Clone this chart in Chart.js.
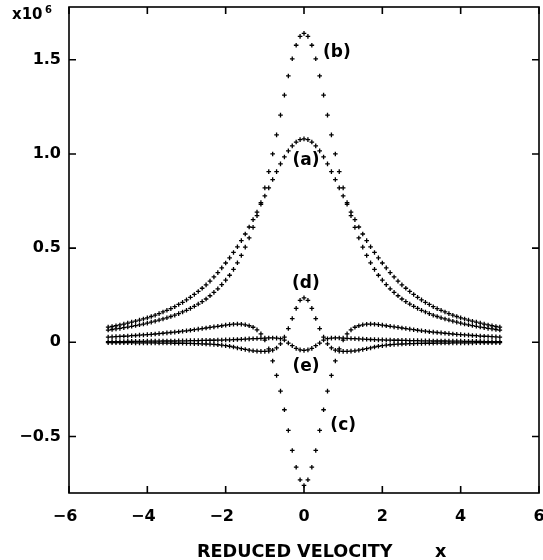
<!DOCTYPE html>
<html>
<head>
<meta charset="utf-8">
<script src="https://cdn.jsdelivr.net/npm/chart.js@4/dist/chart.umd.min.js"></script>
<style>
html,body{margin:0;padding:0;background:#fff;}
canvas{display:block;}
</style>
</head>
<body>
<canvas id="c" width="543" height="560"></canvas>
<script>
const xs = [-5.0,-4.9,-4.8,-4.7,-4.6,-4.5,-4.4,-4.3,-4.2,-4.1,-4.0,-3.9,-3.8,-3.7,-3.6,-3.5,-3.4,-3.3,-3.2,-3.1,-3.0,-2.9,-2.8,-2.7,-2.6,-2.5,-2.4,-2.3,-2.2,-2.1,-2.0,-1.9,-1.8,-1.7,-1.6,-1.5,-1.4,-1.3,-1.2,-1.1,-1.0,-0.9,-0.8,-0.7,-0.6,-0.5,-0.4,-0.3,-0.2,-0.1,0.0,0.1,0.2,0.3,0.4,0.5,0.6,0.7,0.8,0.9,1.0,1.1,1.2,1.3,1.4,1.5,1.6,1.7,1.8,1.9,2.0,2.1,2.2,2.3,2.4,2.5,2.6,2.7,2.8,2.9,3.0,3.1,3.2,3.3,3.4,3.5,3.6,3.7,3.8,3.9,4.0,4.1,4.2,4.3,4.4,4.5,4.6,4.7,4.8,4.9,5.0];

const seriesA = [0.081,0.084,0.088,0.092,0.097,0.102,0.107,0.112,0.118,0.124,
0.130,0.137,0.144,0.152,0.161,0.170,0.179,0.189,0.201,0.212,
0.225,0.239,0.254,0.270,0.287,0.305,0.325,0.347,0.370,0.395,
0.421,0.448,0.477,0.507,0.540,0.575,0.612,0.651,0.691,0.733,
0.777,0.820,0.864,0.906,0.947,0.984,1.016,1.043,1.063,1.076,
1.080,
1.076,1.063,1.043,1.016,0.984,0.947,0.906,0.864,0.820,0.777,
0.733,0.691,0.651,0.612,0.575,0.540,0.507,0.477,0.448,0.421,
0.395,0.370,0.347,0.325,0.305,0.287,0.270,0.254,0.239,0.225,
0.212,0.201,0.189,0.179,0.170,0.161,0.152,0.144,0.137,0.130,
0.124,0.118,0.112,0.107,0.102,0.097,0.092,0.088,0.084,0.081];

const seriesB = [0.065,0.068,0.071,0.074,0.078,0.081,0.085,0.089,0.093,0.097,
0.102,0.107,0.112,0.118,0.124,0.130,0.137,0.144,0.152,0.161,
0.170,0.180,0.191,0.203,0.216,0.230,0.247,0.265,0.284,0.306,
0.330,0.356,0.387,0.422,0.461,0.505,0.554,0.610,0.672,0.742,
0.820,0.906,1.000,1.101,1.206,1.312,1.414,1.505,1.577,1.624,
1.640,
1.624,1.577,1.505,1.414,1.312,1.206,1.101,1.000,0.906,0.820,
0.742,0.672,0.610,0.554,0.505,0.461,0.422,0.387,0.356,0.330,
0.306,0.284,0.265,0.247,0.230,0.216,0.203,0.191,0.180,0.170,
0.161,0.152,0.144,0.137,0.130,0.124,0.118,0.112,0.107,0.102,
0.097,0.093,0.089,0.085,0.081,0.078,0.074,0.071,0.068,0.065];

const seriesC = [0.028,0.029,0.030,0.031,0.032,0.033,0.035,0.036,0.038,0.039,
0.041,0.042,0.044,0.046,0.048,0.050,0.052,0.054,0.056,0.059,
0.061,0.064,0.067,0.070,0.073,0.076,0.079,0.082,0.085,0.088,
0.091,0.094,0.096,0.097,0.096,0.093,0.088,0.080,0.066,0.045,
0.012,-0.035,-0.099,-0.176,-0.259,-0.358,-0.468,-0.574,-0.663,-0.730,
-0.760,
-0.730,-0.663,-0.574,-0.468,-0.358,-0.259,-0.176,-0.099,-0.035,0.012,
0.045,0.066,0.080,0.088,0.093,0.096,0.097,0.096,0.094,0.091,
0.088,0.085,0.082,0.079,0.076,0.073,0.070,0.067,0.064,0.061,
0.059,0.056,0.054,0.052,0.050,0.048,0.046,0.044,0.042,0.041,
0.039,0.038,0.036,0.035,0.033,0.032,0.031,0.030,0.029,0.028];

const seriesD = [-0.002,-0.002,-0.002,-0.002,-0.002,-0.002,-0.002,-0.003,-0.003,-0.003,
-0.003,-0.003,-0.003,-0.004,-0.004,-0.004,-0.004,-0.005,-0.005,-0.005,
-0.006,-0.006,-0.007,-0.007,-0.008,-0.009,-0.010,-0.011,-0.013,-0.015,
-0.018,-0.021,-0.025,-0.030,-0.034,-0.038,-0.042,-0.045,-0.047,-0.048,
-0.048,-0.047,-0.042,-0.030,-0.008,0.028,0.073,0.126,0.180,0.223,
0.236,
0.223,0.180,0.126,0.073,0.028,-0.008,-0.030,-0.042,-0.047,-0.048,
-0.048,-0.047,-0.045,-0.042,-0.038,-0.034,-0.030,-0.025,-0.021,-0.018,
-0.015,-0.013,-0.011,-0.010,-0.009,-0.008,-0.007,-0.007,-0.006,-0.006,
-0.005,-0.005,-0.005,-0.004,-0.004,-0.004,-0.004,-0.003,-0.003,-0.003,
-0.003,-0.003,-0.003,-0.002,-0.002,-0.002,-0.002,-0.002,-0.002,-0.002];

const seriesE = [0.004,0.004,0.004,0.004,0.004,0.005,0.005,0.005,0.005,0.005,
0.006,0.006,0.006,0.006,0.007,0.007,0.007,0.007,0.008,0.008,
0.008,0.009,0.009,0.009,0.010,0.010,0.011,0.011,0.012,0.012,
0.013,0.013,0.014,0.015,0.016,0.017,0.018,0.019,0.020,0.021,
0.022,0.023,0.023,0.022,0.019,0.012,-0.004,-0.018,-0.032,-0.040,
-0.043,
-0.040,-0.032,-0.018,-0.004,0.012,0.019,0.022,0.023,0.023,0.022,
0.021,0.020,0.019,0.018,0.017,0.016,0.015,0.014,0.013,0.013,
0.012,0.012,0.011,0.011,0.010,0.010,0.009,0.009,0.009,0.008,
0.008,0.008,0.007,0.007,0.007,0.007,0.006,0.006,0.006,0.006,
0.005,0.005,0.005,0.005,0.005,0.004,0.004,0.004,0.004,0.004];

const xTickValues = [-6,-4,-2,0,2,4,6];
const xTickLabels = ['\u22126\u2002','\u22124\u2002','\u22122\u2002','0','2','4','6'];
const yTickValues = [-0.5,0,0.5,1.0,1.5];
const yTickLabels = ['\u22120.5','0','0.5','1.0','1.5'];

const curveLabels = ['(a)','(b)','(c)','(d)','(e)'];
const curveLabelX = [0.05,0.84,1.0,0.05,0.05];
const curveLabelY = [0.966,1.54,-0.44,0.313,-0.127];

const FONT = 'DejaVu Sans';

function mk(label, ys){
  return {
    label: label,
    data: xs.map((x,i)=>({x:x, y:ys[i]})),
    showLine: false,
    pointStyle: 'cross',
    pointRadius: 2.3,
    pointBorderWidth: 1.3,
    borderColor: '#000',
    backgroundColor: '#000',
    pointHoverRadius: 2.3
  };
}

const framePlugin = {
  id: 'frame',
  afterDraw(chart){
    const ctx = chart.ctx;
    const a = chart.chartArea;
    const sx = chart.scales.x, sy = chart.scales.y;
    ctx.save();
    ctx.strokeStyle = '#000';
    ctx.lineWidth = 1.6;
    ctx.strokeRect(a.left, a.top, a.right - a.left, a.bottom - a.top);
    const tl = 7;
    ctx.beginPath();
    xTickValues.forEach(v=>{
      const p = sx.getPixelForValue(v);
      ctx.moveTo(p, a.bottom); ctx.lineTo(p, a.bottom - tl);
      ctx.moveTo(p, a.top); ctx.lineTo(p, a.top + tl);
    });
    yTickValues.forEach(v=>{
      const p = sy.getPixelForValue(v);
      ctx.moveTo(a.left, p); ctx.lineTo(a.left + tl, p);
      ctx.moveTo(a.right, p); ctx.lineTo(a.right - tl, p);
    });
    ctx.stroke();

    ctx.fillStyle = '#000';
    ctx.font = 'bold 17px "' + FONT + '"';
    ctx.textAlign = 'center';
    ctx.textBaseline = 'middle';
    curveLabels.forEach((t,i)=>{
      ctx.fillText(t, sx.getPixelForValue(curveLabelX[i]), sy.getPixelForValue(curveLabelY[i]));
    });

    ctx.textAlign = 'left';
    ctx.textBaseline = 'alphabetic';
    ctx.font = 'bold 15px "' + FONT + '"';
    ctx.fillText('x10', 12, 19);
    ctx.font = 'bold 10px "' + FONT + '"';
    ctx.fillText('6', 45, 13);

    ctx.font = 'bold 17.6px "' + FONT + '"';
    ctx.fillText('REDUCED VELOCITY', 197, 557);
    ctx.fillText('x', 435, 557);
    ctx.restore();
  }
};

new Chart(document.getElementById('c'), {
  type: 'scatter',
  data: { datasets: [mk('a',seriesA), mk('b',seriesB), mk('c',seriesC), mk('d',seriesD), mk('e',seriesE)] },
  options: {
    responsive: false,
    animation: false,
    devicePixelRatio: 1,
    layout: { padding: { left: 0, right: 4, top: 7, bottom: 0 } },
    plugins: { legend: { display: false }, tooltip: { enabled: false }, title: {display:false} },
    scales: {
      x: {
        type: 'linear', min: -6, max: 6,
        afterBuildTicks: s => { s.ticks = xTickValues.map(v=>({value:v})); },
        afterFit: s => { s.height = 67; s.paddingLeft = 0; s.paddingRight = 0; },
        grid: { display: false, drawTicks: false },
        border: { display: false },
        ticks: {
          callback: (v) => { const i = xTickValues.indexOf(v); return i >= 0 ? xTickLabels[i] : ''; },
          font: { family: FONT, weight: 'bold', size: 16 },
          color: '#000', padding: 14, maxRotation: 0, autoSkip: false
        }
      },
      y: {
        type: 'linear', min: -0.8, max: 1.78,
        afterBuildTicks: s => { s.ticks = yTickValues.map(v=>({value:v})); },
        afterFit: s => { s.width = 69; s.paddingTop = 0; s.paddingBottom = 0; },
        grid: { display: false, drawTicks: false },
        border: { display: false },
        ticks: {
          callback: (v) => { const i = yTickValues.indexOf(v); return i >= 0 ? yTickLabels[i] : ''; },
          font: { family: FONT, weight: 'bold', size: 16 },
          color: '#000', padding: 8, autoSkip: false
        }
      }
    }
  },
  plugins: [framePlugin]
});
</script>
</body>
</html>
